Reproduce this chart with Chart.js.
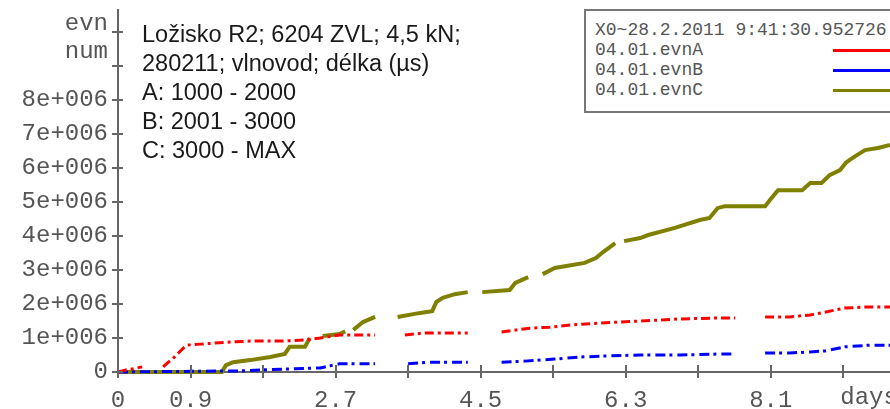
<!DOCTYPE html>
<html>
<head>
<meta charset="utf-8">
<script src="https://cdn.jsdelivr.net/npm/chart.js@4.4.1/dist/chart.umd.min.js"></script>
<style>
  body { margin: 0; background: #fff; }
  #wrap { position: relative; width: 890px; height: 409px; overflow: hidden; }
  #note {
    position: absolute; left: 142px; top: 20px;
    font: 23.5px "Liberation Sans", Arial, sans-serif; line-height: 29px; color: #1a1a1a;
  }
  #legend {
    position: absolute; left: 584px; top: 9px; width: 330px; height: 104px;
    box-sizing: border-box; border: 2px solid #777; background: #fff;
    padding: 9px 0 0 9px; font: 18px "Liberation Mono", monospace; line-height: 20px; color: #555;
  }
  #legend .row { position: relative; height: 20px; white-space: pre; }
  #legend .swatch { position: absolute; left: 238px; top: 9px; width: 80px; height: 3px; }
</style>
</head>
<body>
<div id="wrap">
  <canvas id="evnChart" width="890" height="409"></canvas>
  <div id="note">
    Ložisko R2; 6204 ZVL; 4,5 kN;<br>
    280211; vlnovod; délka (µs)<br>
    A: 1000 - 2000<br>
    B: 2001 - 3000<br>
    C: 3000 - MAX
  </div>
  <div id="legend"></div>
</div>
<script>
// time in days, cumulative event counts; null marks a break in the record
const daysA = [0, 0.1, 0.2, 0.3, 0.4, 0.56, 0.7, 0.81, 0.86, 1.02, 1.2, 1.39, 1.64, 2.01, 2.32, 2.51, 2.75, 3.19, 3.3, 3.56, 3.81, 4.34, 4.5, 4.76, 5.11, 5.36, 5.61, 5.98, 6.48, 6.97, 7.47, 7.66, 7.8, 8.03, 8.34, 8.59, 8.77, 9.02, 9.27, 9.58];
const evnA = [0, 60000, 100000, 150000, null, 150000, 440000, 700000, 790000, 820000, 850000, 880000, 910000, 910000, 940000, 1000000, 1090000, 1090000, null, 1090000, 1150000, 1150000, null, 1180000, 1290000, 1320000, 1380000, 1440000, 1500000, 1560000, 1590000, 1590000, null, 1620000, 1620000, 1680000, 1760000, 1880000, 1910000, 1910000];

const daysB = [0, 1.39, 1.51, 1.76, 2.13, 2.51, 2.63, 2.75, 3.19, 3.3, 3.6, 3.87, 4.34, 4.5, 4.76, 5.05, 5.42, 5.73, 6.04, 6.48, 6.97, 7.47, 7.66, 7.8, 8.03, 8.34, 8.59, 8.77, 9.02, 9.33, 9.58];
const evnB = [0, 30000, 30000, 60000, 90000, 120000, 180000, 240000, 240000, null, 240000, 290000, 290000, null, 290000, 320000, 380000, 440000, 470000, 500000, 500000, 530000, 530000, null, 560000, 560000, 590000, 620000, 740000, 790000, 790000];

const daysC = [0, 1.29, 1.34, 1.43, 1.64, 1.89, 2.07, 2.13, 2.32, 2.38, 2.45, 2.54, 2.75, 2.82, 2.87, 2.92, 3.04, 3.19, 3.3, 3.47, 3.68, 3.81, 3.9, 3.95, 4.03, 4.18, 4.34, 4.42, 4.52, 4.86, 4.93, 5.09, 5.18, 5.27, 5.42, 5.79, 5.93, 6.02, 6.17, 6.22, 6.28, 6.48, 6.58, 6.91, 7.22, 7.34, 7.44, 7.53, 8.03, 8.11, 8.19, 8.49, 8.59, 8.73, 8.83, 8.96, 9.03, 9.08, 9.17, 9.27, 9.43, 9.58];
const evnC = [0, 0, 200000, 290000, 350000, 440000, 530000, 740000, 740000, 1000000, null, 1060000, 1120000, 1200000, null, 1240000, 1470000, 1620000, null, 1620000, 1710000, 1760000, 1790000, 2060000, 2180000, 2290000, 2350000, null, 2350000, 2410000, 2620000, 2790000, null, 2880000, 3060000, 3210000, 3350000, 3530000, 3790000, null, 3850000, 3940000, 4030000, 4240000, 4470000, 4530000, 4820000, 4880000, 4880000, 5120000, 5350000, 5350000, 5560000, 5560000, 5790000, 5940000, 6150000, 6240000, 6380000, 6530000, 6590000, 6680000];

const xTickValues = [0, 0.9, 1.8, 2.7, 3.6, 4.5, 5.4, 6.3, 7.2, 8.1, 9.0];
const xTickLabels = ['0', '0.9', '', '2.7', '', '4.5', '', '6.3', '', '8.1', ''];
const yTickValues = [0, 1e6, 2e6, 3e6, 4e6, 5e6, 6e6, 7e6, 8e6, 9e6, 10e6];
const yTickLabels = ['0', '1e+006', '2e+006', '3e+006', '4e+006', '5e+006', '6e+006', '7e+006', '8e+006', '', ''];

const seriesNames = ['04.01.evnA', '04.01.evnB', '04.01.evnC'];
const legendHeader = 'X0~28.2.2011 9:41:30.952726';

const MONO = '"Liberation Mono", "Courier New", monospace';
const AXIS = '#666';
const LABEL = '#555';

function points(xs, ys) {
    return xs.map((x, i) => ({ x: x, y: ys[i] }));
}

// tick marks that cross the axes, plus the unit labels
const axisMarks = {
    id: 'axisMarks',
    afterDraw(chart) {
        const { ctx, chartArea } = chart;
        const xs = chart.scales.x, ys = chart.scales.y;
        ctx.save();
        ctx.strokeStyle = AXIS;
        ctx.lineWidth = 2;
        ctx.beginPath();
        yTickValues.forEach(v => {
            const py = Math.round(ys.getPixelForValue(v));
            ctx.moveTo(chartArea.left - 6, py);
            ctx.lineTo(chartArea.left + 5, py);
        });
        xTickValues.forEach(v => {
            const px = Math.round(xs.getPixelForValue(v));
            ctx.moveTo(px, chartArea.bottom - 7);
            ctx.lineTo(px, chartArea.bottom + 6);
        });
        ctx.stroke();

        ctx.fillStyle = LABEL;
        ctx.font = '24px ' + MONO;
        ctx.textAlign = 'right';
        ctx.textBaseline = 'middle';
        ctx.fillText('evn', chartArea.left - 10, chartArea.top + 14);
        ctx.fillText('num', chartArea.left - 10, chartArea.top + 42);
        ctx.textAlign = 'left';
        ctx.fillText('days', xs.getPixelForValue(9.0) - 3, chartArea.bottom + 26);
        ctx.restore();
    }
};

const chart = new Chart(document.getElementById('evnChart'), {
    type: 'line',
    data: {
        datasets: [
            {
                label: seriesNames[0],
                data: points(daysA, evnA),
                borderColor: '#ff0000',
                borderWidth: 3,
                borderDash: [9, 4, 3, 4]
            },
            {
                label: seriesNames[1],
                data: points(daysB, evnB),
                borderColor: '#0000ff',
                borderWidth: 3,
                borderDash: [10, 4, 3, 5]
            },
            {
                label: seriesNames[2],
                data: points(daysC, evnC),
                borderColor: '#808000',
                borderWidth: 4
            }
        ]
    },
    options: {
        responsive: false,
        animation: false,
        spanGaps: false,
        elements: {
            point: { radius: 0 },
            line: { tension: 0, capBezierPoints: false }
        },
        datasets: { line: { clip: 4 } },
        layout: { padding: { top: 10, right: 0, bottom: 0, left: 0 } },
        plugins: {
            legend: { display: false },
            tooltip: { enabled: false }
        },
        scales: {
            x: {
                type: 'linear',
                min: 0,
                max: 9.58,
                grid: { display: false, drawTicks: false },
                border: { display: true, color: AXIS, width: 2 },
                afterBuildTicks: s => { s.ticks = xTickValues.map(v => ({ value: v })); },
                afterFit: s => { s.height = 37; s.paddingLeft = 0; s.paddingRight = 0; },
                ticks: {
                    autoSkip: false,
                    maxRotation: 0,
                    padding: 14,
                    color: LABEL,
                    font: { family: MONO, size: 24 },
                    callback: (v, i) => xTickLabels[i]
                }
            },
            y: {
                type: 'linear',
                min: 0,
                max: 10.65e6,
                grid: { display: false, drawTicks: false },
                border: { display: true, color: AXIS, width: 2 },
                afterBuildTicks: s => { s.ticks = yTickValues.map(v => ({ value: v })); },
                afterFit: s => { s.width = 118; s.paddingTop = 0; s.paddingBottom = 0; },
                ticks: {
                    autoSkip: false,
                    padding: 10,
                    color: LABEL,
                    font: { family: MONO, size: 24 },
                    callback: (v, i) => yTickLabels[i]
                }
            }
        }
    },
    plugins: [axisMarks]
});

// legend box built from the chart's own datasets
const legend = document.getElementById('legend');
legend.innerHTML = `<div class="row">${legendHeader}</div>` +
    chart.data.datasets.map(ds => `
        <div class="row">${ds.label}<span class="swatch" style="background:${ds.borderColor}"></span></div>
    `).join('');
</script>
</body>
</html>
